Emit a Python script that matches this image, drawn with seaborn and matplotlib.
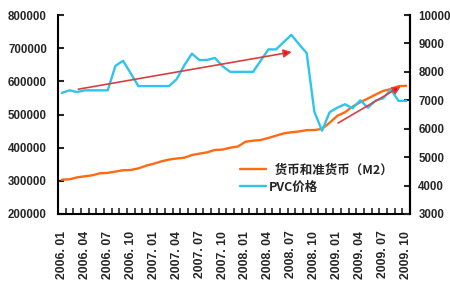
import matplotlib
matplotlib.use("Agg")
import matplotlib.pyplot as plt
from matplotlib.ticker import FixedLocator, NullFormatter
import seaborn as sns
import pandas as pd
import numpy as np

# ---- data ----
months = [f"{y}.{m:02d}" for y in range(2006, 2010) for m in range(1, 13)][:46]
m2 = [303600, 304500, 310500, 313700, 316700, 322800, 324000, 327900, 331900, 332700, 337500, 345600,
      351500, 358700, 364100, 367300, 369700, 377800, 382000, 386000, 393100, 394200, 399800, 403400,
      417800, 421000, 423100, 429300, 436200, 443100, 446400, 448800, 452900, 453100, 456600, 475200,
      496100, 506700, 524000, 537000, 548300, 560000, 571200, 576700, 585400, 586600]
pvc = [7260, 7350, 7290, 7350, 7350, 7350, 7350, 8210, 8390, 7950, 7500, 7500,
       7500, 7500, 7500, 7740, 8230, 8640, 8410, 8420, 8490, 8200, 8000, 8000,
       8000, 8000, 8400, 8790, 8790, 9050, 9300, 8970, 8660, 6600, 5930, 6580,
       6740, 6860, 6720, 7000, 6740, 6990, 7070, 7380, 6980, 6980]
label_m2 = "  货币和准货币（M2）"
label_pvc = "PVC价格"
left_ticks = [200000, 300000, 400000, 500000, 600000, 700000, 800000]
right_ticks = [3000, 4000, 5000, 6000, 7000, 8000, 9000, 10000]
# trend arrows (category index, PVC value): start -> end
arrows = [((2.15, 7390), (30.05, 8700)), ((36.1, 6200), (44.3, 7490))]

df = pd.DataFrame({"idx": np.arange(len(months)), "month": months, "m2": m2, "pvc": pvc})

sns.set_style("white")
plt.rcParams["font.family"] = ["Liberation Sans", "Noto Sans CJK SC", "DejaVu Sans"]

fig = plt.figure(figsize=(4.5, 3), dpi=100)
ax = fig.add_axes([58/450, 1-214/300, (410-58)/450, (214-15)/300])
ax2 = ax.twinx()

orange = "#FF6A13"
blue = "#2EC4EE"
sns.lineplot(data=df, x="idx", y="m2", ax=ax, color=orange, lw=1.7, label=label_m2, legend=False)
sns.lineplot(data=df, x="idx", y="pvc", ax=ax2, color=blue, lw=1.7, label=label_pvc, legend=False)

ax.set_xlim(-0.5, len(months) - 0.5)
ax.set_ylim(left_ticks[0], left_ticks[-1])
ax2.set_ylim(right_ticks[0], right_ticks[-1])
ax.set_yticks(left_ticks)
ax2.set_yticks(right_ticks)
ax.set_yticklabels([str(v) for v in left_ticks], fontweight="bold", fontsize=8.3)
ax2.set_yticklabels([str(v) for v in right_ticks], fontweight="bold", fontsize=8.3)

lab_idx = list(range(0, len(months), 3))
ax.set_xticks(lab_idx)
ax.set_xticklabels([months[i].replace(".", ". ") for i in lab_idx], rotation=90,
                   fontweight="bold", fontsize=8.8)
ax.xaxis.set_minor_locator(FixedLocator(np.arange(-0.5, len(months), 1)))
ax.xaxis.set_minor_formatter(NullFormatter())
ax.tick_params(axis="x", which="major", length=0, pad=12)
ax.tick_params(axis="x", which="minor", length=4, width=1.2, direction="in", bottom=True)
ax.tick_params(axis="y", length=4, width=1.5, direction="in", pad=8, left=True)
ax2.tick_params(axis="y", length=4, width=1.5, direction="in", pad=6, right=True)

ax.set_xlabel("")
ax.set_ylabel("")
ax2.set_ylabel("")
for a in (ax, ax2):
    a.grid(False)
    for s in a.spines.values():
        s.set_color("black")
        s.set_linewidth(1.5)
    a.spines["top"].set_visible(False)
ax2.spines["left"].set_visible(False)
ax2.spines["bottom"].set_visible(False)

for (x0, y0), (x1, y1) in arrows:
    ax2.annotate("", xy=(x1, y1), xytext=(x0, y0),
                 arrowprops=dict(arrowstyle="-|>", color="#E04848", lw=1.2,
                                 mutation_scale=12, shrinkA=0, shrinkB=0,
                                 fc="#FF0000", ec="#D84040"))

h1, l1 = ax.get_legend_handles_labels()
h2, l2 = ax2.get_legend_handles_labels()
fig.legend(h1 + h2, l1 + l2, loc="center left", bbox_to_anchor=(240/450, 1-178.5/300),
           frameon=False, borderpad=0, borderaxespad=0, handlelength=2.1,
           handletextpad=0.25, labelspacing=0.3,
           prop={"family": ["Noto Sans CJK SC", "DejaVu Sans"], "weight": "bold", "size": 9})

fig.savefig("out.png", dpi=100)
